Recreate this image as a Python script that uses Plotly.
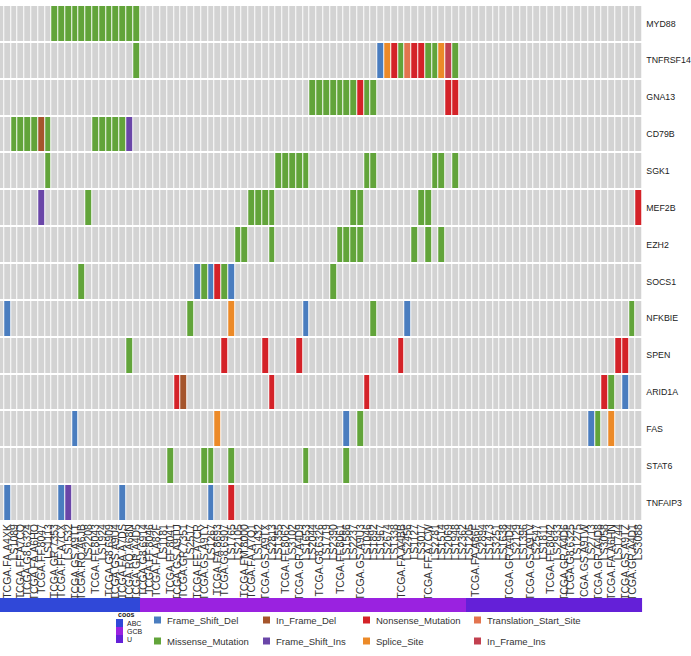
import plotly.graph_objects as go

# ---------------- data ----------------
genes = ["MYD88", "TNFRSF14", "GNA13", "CD79B", "SGK1", "MEF2B", "EZH2",
         "SOCS1", "NFKBIE", "SPEN", "ARID1A", "FAS", "STAT6", "TNFAIP3"]

samples = [
    "TCGA.GS.A9TQ", "TCGA.FA.A4XK", "LS1089", "TCGA.FF.A7CQ", "TCGA.G8.6324",
    "TCGA.FA.A6HO", "TCGA.FF.8047", "LS1113", "TCGA.GR.7353", "TCGA.FF.A7CX",
    "LS1532", "TCGA.GS.A9TT", "TCGA.RQ.A6JB", "LS2208", "TCGA.FF.8043",
    "LS1924", "TCGA.G8.6909", "TCGA.GS.A9U4", "TCGA.FA.A7DS", "TCGA.RQ.A68N",
    "TCGA.GR.A4D5", "TCGA.G8.6914", "TCGA.FF.8046", "TCGA.FA.A82F", "LS1181",
    "TCGA.FF.8041", "TCGA.GS.A9TU", "TCGA.GR.7351", "LS2517", "TCGA.FF.A7CR",
    "TCGA.GS.A9TY", "LS1267", "TCGA.FA.8693", "TCGA.G8.6907", "LS1765",
    "LS2105", "TCGA.FM.8000", "TCGA.FA.A7Q1", "LS1432", "TCGA.GS.A9TX",
    "LS2813", "LS1355", "TCGA.FF.8062", "LS3102", "TCGA.GR.A4D9",
    "LS1653", "LS2044", "TCGA.G8.6326", "LS1719", "LS2390",
    "TCGA.FF.8061", "LS1586", "LS2237", "TCGA.GS.A9U3", "LS1046",
    "LS1892", "LS1967", "LS2674", "LS1338", "TCGA.FA.A4BB",
    "LS2456", "LS1127", "LS3017", "TCGA.FF.A7CW", "LS2781",
    "LS1514", "LS2069", "LS1948", "LS2362", "LS1205",
    "TCGA.FA.A86F", "LS2894", "LS1473", "LS3251", "LS1638",
    "TCGA.GR.A4D4", "LS2129", "LS1396", "TCGA.GS.A9TV", "LS2547",
    "LS1811", "TCGA.FF.8042", "LS2933", "TCGA.GR.A4D6", "TCGA.G8.6325",
    "LS1275", "TCGA.GS.A9TW", "LS2713", "TCGA.GR.A4D8", "LS3058",
    "TCGA.FA.A6HN", "LS1744", "TCGA.GS.A9TZ", "TCGA.GR.A4D1", "LS3088",
]

coos = [
    "ABC", "ABC", "ABC", "ABC", "ABC", "ABC", "ABC", "ABC", "ABC", "ABC",
    "ABC", "ABC", "ABC", "ABC", "ABC", "ABC", "ABC", "ABC", "ABC", "ABC",
    "ABC", "GCB", "GCB", "GCB", "GCB", "GCB", "GCB", "GCB", "GCB", "GCB",
    "GCB", "GCB", "GCB", "GCB", "GCB", "GCB", "GCB", "GCB", "GCB", "GCB",
    "GCB", "GCB", "GCB", "GCB", "GCB", "GCB", "GCB", "GCB", "GCB", "GCB",
    "GCB", "GCB", "GCB", "GCB", "GCB", "GCB", "GCB", "GCB", "GCB", "GCB",
    "GCB", "GCB", "GCB", "GCB", "GCB", "GCB", "GCB", "GCB", "GCB", "U",
    "U", "U", "U", "U", "U", "U", "U", "U", "U", "U",
    "U", "U", "U", "U", "U", "U", "U", "U", "U", "U",
    "U", "U", "U", "U", "U",
]
coo_levels = ["ABC", "GCB", "U"]
coo_colors = ["#3048D8", "#9A22E0", "#6420D8"]

# mutation classes (legend order, column-major)
mut_types = ["Frame_Shift_Del", "Missense_Mutation", "In_Frame_Del", "Frame_Shift_Ins",
             "Nonsense_Mutation", "Splice_Site", "Translation_Start_Site", "In_Frame_Ins"]
mut_codes = ["FSD", "MM", "IFD", "FSI", "NM", "SS", "TSS", "IFI"]
mut_colors = ["#4A7DBF", "#62A43A", "#A5552C", "#6A46A8",
              "#D42228", "#EC8A28", "#E3744F", "#C2404F"]
bg_color = "#D3D3D3"

# (sample index, mutation code) per gene
MYD88 = [(8, "MM"), (9, "MM"), (10, "MM"), (11, "MM"), (12, "MM"), (13, "MM"), (14, "MM"),
         (15, "MM"), (16, "MM"), (17, "MM"), (18, "MM"), (19, "MM"), (20, "MM")]
TNFRSF14 = [(20, "MM"), (56, "FSD"), (57, "SS"), (58, "NM"), (59, "MM"), (60, "TSS"), (61, "NM"),
            (62, "NM"), (63, "MM"), (64, "MM"), (65, "SS"), (66, "IFI"), (67, "MM")]
GNA13 = [(46, "MM"), (47, "MM"), (48, "MM"), (49, "MM"), (50, "MM"), (51, "MM"), (52, "MM"),
         (53, "NM"), (54, "MM"), (55, "MM"), (66, "NM"), (67, "NM")]
CD79B = [(2, "MM"), (3, "MM"), (4, "MM"), (5, "MM"), (6, "IFD"), (7, "MM"), (14, "MM"),
         (15, "MM"), (16, "MM"), (17, "MM"), (18, "MM"), (19, "FSI")]
SGK1 = [(7, "MM"), (41, "MM"), (42, "MM"), (43, "MM"), (44, "MM"), (45, "MM"), (54, "MM"),
        (55, "MM"), (64, "MM"), (65, "MM"), (67, "MM")]
MEF2B = [(6, "FSI"), (13, "MM"), (37, "MM"), (38, "MM"), (39, "MM"), (40, "MM"), (52, "MM"),
         (53, "MM"), (62, "MM"), (63, "MM"), (94, "NM")]
EZH2 = [(35, "MM"), (36, "MM"), (40, "MM"), (50, "MM"), (51, "MM"), (52, "MM"), (53, "MM"),
        (61, "MM"), (63, "MM"), (65, "MM")]
SOCS1 = [(12, "MM"), (29, "FSD"), (30, "MM"), (31, "FSD"), (32, "NM"), (33, "MM"),
         (34, "FSD"), (49, "MM")]
NFKBIE = [(1, "FSD"), (28, "MM"), (34, "SS"), (45, "FSD"), (55, "MM"), (60, "FSD"), (93, "MM")]
SPEN = [(19, "MM"), (33, "NM"), (39, "NM"), (44, "NM"), (59, "NM"), (91, "NM"), (92, "NM")]
ARID1A = [(26, "NM"), (27, "IFD"), (40, "NM"), (54, "NM"), (89, "NM"), (90, "MM"), (92, "FSD")]
FAS = [(11, "FSD"), (32, "SS"), (51, "FSD"), (53, "MM"), (87, "FSD"), (88, "MM"), (90, "SS")]
STAT6 = [(25, "MM"), (30, "MM"), (31, "MM"), (34, "MM"), (45, "MM"), (51, "MM")]
TNFAIP3 = [(1, "FSD"), (9, "FSD"), (10, "FSI"), (18, "FSD"), (31, "FSD"), (34, "NM")]

gene_muts = [MYD88, TNFRSF14, GNA13, CD79B, SGK1, MEF2B, EZH2,
             SOCS1, NFKBIE, SPEN, ARID1A, FAS, STAT6, TNFAIP3]

# ---------------- build matrices ----------------
n = len(samples)
code_idx = {c: i + 1 for i, c in enumerate(mut_codes)}
z = []
text = []
for muts in gene_muts:
    row = [0] * n
    trow = [""] * n
    for s, c in muts:
        row[s] = code_idx[c]
        trow[s] = mut_types[code_idx[c] - 1]
    z.append(row)
    text.append(trow)

all_colors = [bg_color] + mut_colors
k = len(all_colors)
cscale = []
for i, col in enumerate(all_colors):
    cscale.append([i / k, col])
    cscale.append([(i + 1) / k, col])

coo_z = [[coo_levels.index(c) for c in coos]]
kc = len(coo_colors)
coo_scale = []
for i, col in enumerate(coo_colors):
    coo_scale.append([i / kc, col])
    coo_scale.append([(i + 1) / kc, col])

W, H = 691, 656
FONT = "Liberation Sans, Arial, Helvetica, sans-serif"
xs = list(range(n))

fig = go.Figure()
fig.add_trace(go.Heatmap(
    z=z, x=xs, y=genes, text=text, zmin=-0.5, zmax=k - 0.5,
    colorscale=cscale, showscale=False, xgap=1, ygap=2,
    hovertemplate="%{y} | %{x}: %{text}<extra></extra>",
    xaxis="x", yaxis="y"))
fig.add_trace(go.Heatmap(
    z=coo_z, x=xs, y=["coos"], zmin=-0.5, zmax=kc - 0.5,
    colorscale=coo_scale, showscale=False, xgap=0,
    xaxis="x", yaxis="y2", hoverinfo="skip"))

def px_x(p):
    return p / W

def px_y(p):
    return 1 - p / H

fig.update_layout(
    width=W, height=H,
    margin=dict(l=0, r=0, t=0, b=0, autoexpand=False),
    paper_bgcolor="white", plot_bgcolor="white",
    font=dict(family=FONT, color="#222"),
    showlegend=False,
    xaxis=dict(domain=[0, px_x(642.3)], range=[-0.089, n - 0.5],
               tickmode="array", tickvals=xs, ticktext=samples,
               tickangle=-90, tickfont=dict(size=10.5, color="#333", family=FONT),
               showgrid=False, zeroline=False, showline=False, ticks="",
               anchor="y", fixedrange=True, automargin=False),
    yaxis=dict(domain=[px_y(521), px_y(5)], autorange="reversed",
               side="right", tickfont=dict(size=8.8, color="#222", family=FONT),
               showgrid=False, zeroline=False, showline=False, ticks="",
               ticklabelstandoff=3, anchor="x", fixedrange=True, automargin=False),
    yaxis2=dict(domain=[px_y(612), px_y(598)], showticklabels=False,
                showgrid=False, zeroline=False, showline=False, ticks="",
                anchor="x", fixedrange=True, automargin=False),
)

shapes = []
annotations = []

# coos legend
annotations.append(dict(x=px_x(116), y=px_y(614), xref="paper", yref="paper",
                        text="<b>coos</b>", showarrow=False, xanchor="left",
                        yanchor="middle", font=dict(size=7, color="#222", family=FONT)))
for i, (lab, col) in enumerate(zip(coo_levels, coo_colors)):
    top = 619 + i * 8
    shapes.append(dict(type="rect", xref="paper", yref="paper",
                       x0=px_x(116), x1=px_x(123), y0=px_y(top + 8), y1=px_y(top),
                       fillcolor=col, line=dict(width=0)))
    annotations.append(dict(x=px_x(124.5), y=px_y(top + 4), xref="paper", yref="paper",
                            text=lab, showarrow=False, xanchor="left", yanchor="middle",
                            font=dict(size=7, color="#222", family=FONT)))

# mutation legend (2 rows, column-major)
col_x = [154, 263, 363, 474]
row_y = [620, 641]
for i, (lab, col) in enumerate(zip(mut_types, mut_colors)):
    cx = col_x[i // 2]
    cy = row_y[i % 2]
    shapes.append(dict(type="rect", xref="paper", yref="paper",
                       x0=px_x(cx), x1=px_x(cx + 7), y0=px_y(cy + 3.5), y1=px_y(cy - 3.5),
                       fillcolor=col, line=dict(width=0)))
    annotations.append(dict(x=px_x(cx + 11), y=px_y(cy), xref="paper", yref="paper",
                            text=lab, showarrow=False, xanchor="left", yanchor="middle",
                            font=dict(size=9.5, color="#333", family=FONT)))

fig.update_layout(shapes=shapes, annotations=annotations)
fig.write_html("out.html")
